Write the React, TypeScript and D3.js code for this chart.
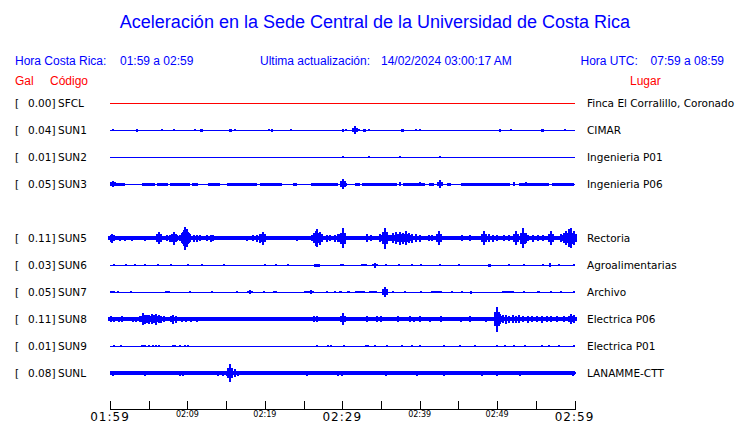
import React from 'react';
import * as d3 from 'd3';

// ---------- data ----------
const codes = ['SFCL', 'SUN1', 'SUN2', 'SUN3', 'SUN5', 'SUN6', 'SUN7', 'SUN8', 'SUN9', 'SUNL'];
const places = ['Finca El Corralillo, Coronado', 'CIMAR', 'Ingenieria P01', 'Ingenieria P06', 'Rectoria',
  'Agroalimentarias', 'Archivo', 'Electrica P06', 'Electrica P01', 'LANAMME-CTT'];
const peakGal = ['0.00', '0.04', '0.01', '0.05', '0.11', '0.03', '0.05', '0.11', '0.01', '0.08'];
const rowSlot = [0, 1, 2, 3, 5, 6, 7, 8, 9, 10];
// background noise level (centi-gal)
const baseAmp = [0.5, 0.5, 0.5, 0.5, 2, 0.5, 0.5, 2, 0.5, 1.7];
const traceColor = ['#ff0000', '#0000ff', '#0000ff', '#0000ff', '#0000ff', '#0000ff', '#0000ff', '#0000ff', '#0000ff', '#0000ff'];

// time ticks (minutes after 01:59)
const tickMinutes = [0, 5, 10, 15, 20, 25, 30, 35, 40, 45, 50, 55, 60];
const labelMinutes = [0, 10, 20, 30, 40, 50, 60];
const labelText = ['01:59', '02:09', '02:19', '02:29', '02:39', '02:49', '02:59'];
const labelBig = [true, false, false, true, false, false, true];

// spikes: [minute, amplitude (centi-gal)]
const spikesSFCL: [number, number][] = [];
const spikesSUN1: [number, number][] = [
  [0.43, 1.3], [3.53, 1.5], [6.68, 1], [8.28, 0.8], [10.99, 1.3], [11.72, 1.5], [11.85, 1.5], [15.52, 1.5], [15.65, 1.5],
  [16.21, 1.3], [20.56, 1.3], [20.95, 1.5], [23.32, 1.3], [30.04, 1.5], [30.47, 1], [31.68, 4.3], [32.11, 1],
  [32.8, 1.5], [32.95, 1.5], [33.41, 1.3], [37.72, 1.5], [37.85, 1.5], [39.48, 0.8], [40.0, 1.3], [50.39, 1.5],
  [51.77, 0.8], [55.78, 1.5], [55.92, 1.5], [58.75, 1.3],
];
const spikesSUN2: [number, number][] = [[30.04, 1.2], [33.41, 1.2], [37.41, 0.8], [42.67, 1]];
const spikesSUN3: [number, number][] = [
  [0.43, 3.3], [30.04, 5.3], [37.4, 2.3], [40.1, 2], [42.67, 4], [52.2, 2.3], [53.7, 1.8],
];
const spikesSUN5: [number, number][] = [
  [0.1, 3.5], [0.3, 4.5], [0.5, 3], [1.29, 2.5], [1.94, 2.5], [2.8, 2.5], [4.5, 2.5],
  [6.03, 4], [6.3, 6], [6.6, 4], [7.3, 3], [7.8, 3.5], [8.2, 3], [8.3, 6.5], [8.6, 3],
  [9.27, 5], [9.5, 8], [9.7, 11.5], [9.9, 9], [10.1, 6], [10.35, 4], [10.8, 3.5], [11.2, 3.5], [11.6, 3],
  [12.5, 3], [13.0, 3.5], [13.3, 3], [17.7, 2.5], [18.5, 3], [19.0, 3.5], [19.4, 4.5], [19.7, 6.5], [19.9, 4],
  [24.1, 2.5], [26.3, 5], [26.6, 7.5], [26.8, 9], [27.1, 6.5], [27.4, 4], [28.0, 3.5], [28.4, 3],
  [29.0, 3.5], [29.4, 4], [29.7, 4], [30.04, 10], [33.2, 4], [33.7, 3],
  [34.9, 4], [35.2, 5], [35.5, 10.5], [35.8, 5], [36.6, 5], [37.0, 6], [37.4, 6.5], [37.8, 5.5], [38.2, 7],
  [38.6, 5], [39.0, 4.5], [39.5, 4], [40.0, 3.5], [41.2, 3], [41.6, 3], [42.3, 3.5], [42.5, 7], [42.8, 3.5],
  [45.5, 3], [46.5, 3], [48.1, 3], [48.3, 7], [48.9, 4], [49.5, 3.5], [50.0, 3], [50.9, 3], [51.5, 3],
  [52.4, 7], [53.2, 4], [53.4, 10], [53.7, 5], [54.7, 3.5], [55.3, 3], [55.9, 3], [56.9, 7],
  [58.2, 4], [58.6, 5], [58.9, 7], [59.3, 9], [59.6, 10], [59.9, 7],
];
const spikesSUN6: [number, number][] = [
  [0.52, 1.3], [2.03, 1.3], [3.23, 1], [4.53, 1.3], [6.16, 0.8], [7.89, 1.3], [10.13, 0.8], [11.85, 1],
  [14.78, 0.8], [20.04, 1.3], [21.42, 1], [22.93, 1], [26.5, 1.5], [26.72, 1.5], [26.95, 1.5], [29.8, 1.3], [30.1, 1.3],
  [32.6, 1.3], [32.84, 1.3], [33.1, 1.3], [34.27, 2.5], [35.69, 1.3], [37.37, 1], [39.01, 1.3], [40.17, 1], [42.67, 0.8],
  [45.13, 1.3], [48.92, 1.5], [49.05, 1.5], [51.59, 1.3], [53.45, 1], [55.95, 1.3], [56.81, 2.3], [57.97, 1.3], [59.91, 1.3],
];
const spikesSUN7: [number, number][] = [
  [1.08, 1], [2.67, 1], [10.34, 1], [13.15, 1], [16.38, 0.8], [18.1, 2], [19.83, 0.8], [26.0, 2], [28.02, 1],
  [29.1, 1.3], [35.56, 5], [36.6, 1], [38.15, 1.3], [40.17, 1.3], [44.2, 1], [45.5, 1], [46.6, 1.5], [53.45, 1],
  [56.9, 1], [58.2, 1], [59.9, 1.3],
];
const spikesSUN8: [number, number][] = [
  [0.1, 3], [0.5, 2.5], [1.2, 2.5], [1.5, 3], [3.0, 2.5], [3.3, 2.5], [3.9, 3], [4.2, 6], [4.5, 4.5], [4.8, 4],
  [5.1, 4.5], [5.4, 5], [5.7, 4], [6.0, 5.5], [6.3, 4], [6.6, 3.5], [7.0, 3], [7.9, 3], [8.2, 4.5], [8.5, 3.5],
  [9.3, 2.5], [9.8, 2.5], [10.5, 2.5], [11.2, 2.5], [20.0, 2.2], [24.2, 2.2], [26.4, 3], [26.8, 3], [30.04, 6],
  [33.2, 3], [34.5, 3], [35.0, 3], [37.2, 3], [38.7, 3], [39.3, 2.5], [40.0, 3], [41.3, 2.5], [42.7, 3],
  [45.3, 2.5], [46.5, 3], [48.6, 2.5], [49.8, 2.5], [50.05, 12.5], [50.4, 5], [50.8, 4], [51.2, 4.5], [51.6, 3.5],
  [52.0, 4], [52.4, 3.5], [52.8, 4], [53.4, 3], [54.0, 3.5], [54.5, 3], [55.2, 3], [55.8, 3.5], [56.4, 3],
  [57.0, 3], [57.8, 3], [58.6, 3], [59.6, 5], [59.9, 4],
];
const spikesSUN9: [number, number][] = [
  [0.52, 1.3], [1.38, 0.8], [4.1, 1.3], [4.31, 1.3], [4.5, 1.3], [5.1, 1.2], [5.52, 1.3], [5.95, 1.2], [6.38, 1],
  [8.1, 1], [8.4, 0.8], [9.05, 1], [9.7, 0.8], [10.13, 0.8], [26.72, 1], [28.2, 1.2], [28.6, 1.2], [30.17, 1.2],
  [33.1, 1.3], [33.3, 1.3], [34.27, 1], [35.78, 1], [37.72, 1], [39.01, 1.2], [40.09, 1], [43.1, 1], [45.26, 1.2],
  [47.2, 1], [50.0, 1.3], [51.08, 1], [52.16, 1], [53.66, 1.2], [55.82, 1.2], [56.68, 0.8], [57.97, 1], [59.91, 1.3],
];
const spikesSUNL: [number, number][] = [
  [0.43, 2.5], [3.0, 2.2], [4.5, 2.5], [5.0, 2.2], [9.0, 2.5], [9.4, 2.5], [13.9, 2.5], [14.6, 2.5], [15.1, 2.5],
  [15.52, 8.8], [15.8, 3.5], [16.2, 4], [16.5, 2.5], [18.0, 2.2], [19.4, 2.2], [20.6, 2.2], [21.7, 2], [22.9, 2.2],
  [25.4, 2.5], [26.5, 2.2], [28.0, 2.2], [29.5, 2.5], [30.0, 2.5], [31.0, 2.2], [32.3, 2.2], [34.0, 2.2],
  [35.6, 2.5], [37.3, 2.2], [39.6, 2.5], [41.0, 2.2], [43.1, 2.5], [45.0, 2.2], [46.6, 2.2], [48.0, 2.5],
  [50.0, 2.5], [51.5, 2.2], [53.0, 2.5], [55.0, 2.2], [56.5, 2.2], [58.0, 2.2], [59.8, 2.5],
];
const spikes = [spikesSFCL, spikesSUN1, spikesSUN2, spikesSUN3, spikesSUN5, spikesSUN6, spikesSUN7, spikesSUN8, spikesSUN9, spikesSUNL];

// sustained noise segments: [start minute, end minute, amplitude]
const blocksSUN3: [number, number, number][] = [
  [0, 1.94, 1.5], [4.09, 5.82, 1.5], [6.03, 7.54, 1.5], [7.76, 10.34, 1.5], [10.56, 11.42, 1.5], [12.72, 14.22, 1.5],
  [15.09, 18.97, 1.5], [19.4, 22.2, 1.5], [23.7, 24.1, 1.5], [26.0, 29.5, 1.5], [29.7, 30.6, 1.5], [31.6, 32.3, 1.5],
  [32.5, 37.1, 1.5], [37.9, 39.9, 1.5], [40.1, 40.7, 1.5], [41.2, 41.8, 1.5], [42.5, 42.9, 1.5], [43.5, 44.0, 1.5],
  [45.3, 51.7, 1.5], [52.8, 56.7, 1.5], [57.1, 59.9, 1.5],
];
const blocksSUN7: [number, number, number][] = [
  [0, 0.65, 1.3], [7.11, 7.76, 1.3], [17.67, 18.5, 1.4], [21.1, 21.55, 1.2], [25.1, 26.3, 1.3], [29.6, 30.0, 1.2],
  [30.6, 31.0, 1.2], [31.68, 32.97, 1.3], [33.5, 34.5, 1.2], [41.4, 42.9, 1.2], [50.6, 52.2, 1.3], [55.2, 55.6, 1.2],
];
const blocks: [number, number, number][][] = [[], [], [], blocksSUN3, [], [], blocksSUN7, [], [], []];

// ---------- chart ----------
const W = 740;
const H = 423;

export default function App() {
  const x = d3.scaleLinear().domain([0, 60]).range([110, 574.5]);
  const y = d3.scaleLinear().domain([0, 10]).range([103, 373]);
  const a = d3.scaleLinear().domain([0, 12]).range([0, 12]);
  const blue = '#0000ff';
  const red = '#ff0000';
  const hdr = { fontFamily: '"Liberation Sans", Arial, sans-serif', fontSize: 12, fill: blue };
  const lab = { fontFamily: '"DejaVu Sans", sans-serif', fontSize: 10.5, fill: '#000' };

  return (
    <svg width={W} height={H} style={{ position: 'absolute', left: 0, top: 0, background: '#fff' }}>
      <text x={375} y={28} textAnchor="middle" style={{ fontFamily: '"Liberation Sans", Arial, sans-serif', fontSize: 18, fill: blue }}>
        Aceleración en la Sede Central de la Universidad de Costa Rica
      </text>
      <text x={15} y={65} style={hdr}>Hora Costa Rica:</text>
      <text x={120} y={65} style={hdr}>01:59 a 02:59</text>
      <text x={260} y={65} style={hdr}>Ultima actualización:</text>
      <text x={381} y={65} style={hdr}>14/02/2024 03:00:17 AM</text>
      <text x={580.5} y={65} style={hdr}>Hora UTC:</text>
      <text x={724} y={65} textAnchor="end" style={hdr}>07:59 a 08:59</text>
      <text x={15} y={85} style={{ ...hdr, fill: red }}>Gal</text>
      <text x={50} y={85} style={{ ...hdr, fill: red }}>Código</text>
      <text x={630} y={85} style={{ ...hdr, fill: red }}>Lugar</text>

      {codes.map((c, i) => {
        const yc = y(rowSlot[i]);
        const col = traceColor[i];
        const b = Math.max(a(baseAmp[i]), 0.5);
        return (
          <g key={c}>
            <text x={15} y={yc + 4} style={lab}>[</text>
            <text x={55.5} y={yc + 4} textAnchor="end" style={lab}>{peakGal[i] + ']'}</text>
            <text x={58} y={yc + 4} style={lab}>{c}</text>
            <text x={587} y={yc + 4} style={lab}>{places[i]}</text>
            <g fill={col} shapeRendering="crispEdges">
              <rect x={x(0)} y={yc - b} width={x(60) - x(0)} height={2 * b} />
              {blocks[i].map(([t0, t1, amp], k) => (
                <rect key={'b' + k} x={x(t0)} y={yc - a(amp)} width={Math.max(x(t1) - x(t0), 1)} height={2 * a(amp)} />
              ))}
              {spikes[i].map(([t, amp], k) => {
                const cx = Math.round(x(t));
                const h = a(amp);
                return (
                  <g key={'s' + k}>
                    <rect x={cx - 1} y={yc - h} width={2} height={2 * h} />
                    {amp > 2.4 && (
                      <rect x={cx - 3} y={yc - h * 0.55} width={6} height={2 * h * 0.55} />
                    )}
                  </g>
                );
              })}
            </g>
          </g>
        );
      })}

      <g shapeRendering="crispEdges" stroke="#000">
        <line x1={x(0)} x2={x(60)} y1={409.5} y2={409.5} />
        {tickMinutes.map((m) => (
          <line key={m} x1={Math.round(x(m)) + 0.5} x2={Math.round(x(m)) + 0.5} y1={401} y2={409.5} />
        ))}
      </g>
      {labelMinutes.map((m, i) => (
        <text key={m} x={x(m)} y={labelBig[i] ? 421 : 417} textAnchor="middle"
          style={{ fontFamily: '"DejaVu Sans", sans-serif', fontSize: labelBig[i] ? 12 : 8, letterSpacing: labelBig[i] ? 1 : 0, fill: '#000' }}>
          {labelText[i]}
        </text>
      ))}
    </svg>
  );
}
